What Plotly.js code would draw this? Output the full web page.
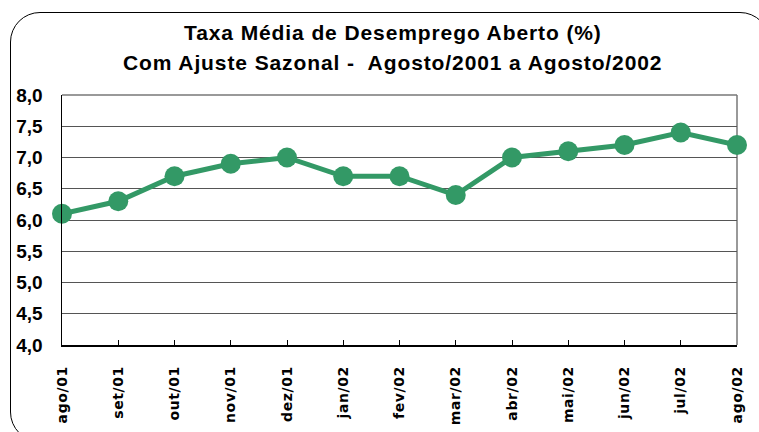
<!DOCTYPE html>
<html>
<head>
<meta charset="utf-8">
<script src="https://cdn.plot.ly/plotly-3.0.1.min.js"></script>
<style>
html,body{margin:0;padding:0;background:#fff;}
#wrap{position:relative;width:759px;height:432px;overflow:hidden;}
#chart{width:759px;height:432px;}
#frame{position:absolute;left:10px;top:12px;width:760px;height:430px;border:1.5px solid #000;border-radius:30px;pointer-events:none;box-sizing:border-box;}
.annotation-text{letter-spacing:0.9px;}
.xtick text{letter-spacing:0.6px;}
</style>
</head>
<body>
<div id="wrap">
<div id="chart"></div>
<div id="frame"></div>
</div>
<script>
const categories = ["ago/01","set/01","out/01","nov/01","dez/01","jan/02","fev/02","mar/02","abr/02","mai/02","jun/02","jul/02","ago/02"];
const taxa = [6.1, 6.3, 6.7, 6.9, 7.0, 6.7, 6.7, 6.4, 7.0, 7.1, 7.2, 7.4, 7.2];
const yTicks = [4.0, 4.5, 5.0, 5.5, 6.0, 6.5, 7.0, 7.5, 8.0];
const titleLines = ['Taxa Média de Desemprego Aberto (%)', 'Com Ajuste Sazonal -  Agosto/2001 a Agosto/2002'];

const idx = categories.map((c, i) => i);

const trace = {
  x: idx,
  y: taxa,
  type: 'scatter',
  mode: 'lines+markers',
  line: {color: '#339966', width: 5},
  marker: {color: '#339966', size: 20},
  cliponaxis: false,
  hoverinfo: 'skip'
};

const titleFont = {family: 'Liberation Sans, Arial, sans-serif', size: 21, color: '#000', weight: 'bold'};

const layout = {
  width: 759, height: 432,
  margin: {l: 62, r: 22, t: 95, b: 87},
  paper_bgcolor: '#fff', plot_bgcolor: '#fff',
  separators: ',.',
  showlegend: false,
  annotations: [
    {text: titleLines[0], xref: 'paper', yref: 'paper', x: 0.49, y: 1.252, xanchor: 'center', yanchor: 'middle', showarrow: false, font: titleFont},
    {text: titleLines[1], xref: 'paper', yref: 'paper', x: 0.49, y: 1.132, xanchor: 'center', yanchor: 'middle', showarrow: false, font: titleFont}
  ],
  xaxis: {
    range: [0, 12],
    tickmode: 'array',
    tickvals: idx,
    ticktext: categories,
    tickangle: -90,
    ticks: 'inside', ticklen: 5, tickcolor: '#000',
    showgrid: false, zeroline: false,
    showline: true, linecolor: '#000', linewidth: 1.5,
    mirror: false,
    tickfont: {family: 'DejaVu Sans, Verdana, sans-serif', size: 14, color: '#000', weight: 'bold'},
    ticklabelstandoff: 14,
    fixedrange: true
  },
  yaxis: {
    range: [4, 8],
    tickmode: 'array',
    tickvals: yTicks,
    tickformat: '.1f',
    ticks: '', showgrid: true, gridcolor: '#555', gridwidth: 1,
    zeroline: false,
    showline: true, linecolor: '#000', linewidth: 1.5,
    tickfont: {family: 'Liberation Sans, Arial, sans-serif', size: 19, color: '#000', weight: 'bold'},
    ticklabelstandoff: 14,
    fixedrange: true
  },
  shapes: [
    {type: 'line', xref: 'paper', yref: 'paper', x0: 0, x1: 1, y0: 1, y1: 1, line: {color: '#777', width: 1.5}, layer: 'below'},
    {type: 'line', xref: 'paper', yref: 'paper', x0: 1, x1: 1, y0: 0, y1: 1, line: {color: '#777', width: 1.5}, layer: 'below'}
  ]
};

Plotly.newPlot('chart', [trace], layout, {displayModeBar: false, staticPlot: true});
</script>
</body>
</html>
